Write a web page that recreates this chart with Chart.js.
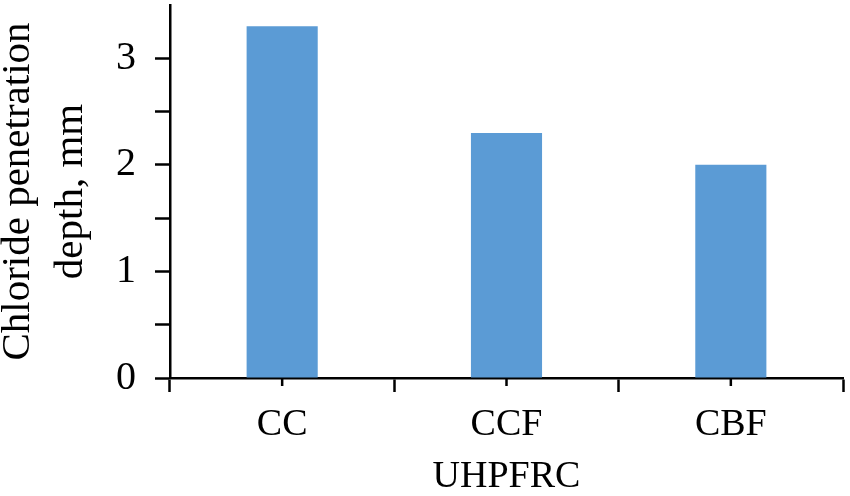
<!DOCTYPE html>
<html>
<head>
<meta charset="utf-8">
<script src="https://cdn.jsdelivr.net/npm/chart.js@4"></script>
<style>
  html, body { margin: 0; padding: 0; background: #ffffff; }
  #wrap { width: 850px; height: 496px; }
</style>
</head>
<body>
<div id="wrap"><canvas id="chart" width="850" height="496"></canvas></div>
<script>
// categories and values
const categories = ['CC', 'CCF', 'CBF'];
const penetrationDepth = [3.3, 2.3, 2.0]; // mm
const yTickLabels = [0, 1, 2, 3];

const barColor = '#5b9bd5';
const serif = "'Liberation Serif', 'Times New Roman', serif";

// short tick marks under each category centre
const centreTicks = {
    id: 'centreTicks',
    afterDraw(chart) {
        const x = chart.scales.x;
        const ctx = chart.ctx;
        ctx.save();
        ctx.strokeStyle = '#000';
        ctx.lineWidth = 2.5;
        categories.forEach((c, i) => {
            const px = x.getPixelForValue(i);
            ctx.beginPath();
            ctx.moveTo(px, x.top);
            ctx.lineTo(px, x.top + 8);
            ctx.stroke();
        });
        ctx.restore();
    }
};

// fixed axis sizes, no extra room reserved for half labels
function fixSize(s, w, h) {
    if (w) s.width = w;
    if (h) s.height = h;
    s.paddingTop = 0;
    s.paddingBottom = 0;
    s.paddingLeft = 0;
    s.paddingRight = 0;
}

new Chart(document.getElementById('chart'), {
    type: 'bar',
    data: {
        labels: categories,
        datasets: [{
            data: penetrationDepth,
            backgroundColor: barColor,
            borderWidth: 0,
            categoryPercentage: 1,
            barPercentage: 0.317
        }]
    },
    options: {
        responsive: false,
        animation: false,
        layout: { padding: { left: 0, right: 7, top: 5, bottom: 0 } },
        plugins: { legend: { display: false }, tooltip: { enabled: false } },
        scales: {
            x: {
                offset: true,
                afterFit: s => fixSize(s, 0, 118),
                grid: {
                    offset: true,
                    drawOnChartArea: false,
                    tickLength: 14,
                    tickWidth: 2.5,
                    tickColor: '#000'
                },
                border: { color: '#000', width: 2.5 },
                ticks: {
                    color: '#000',
                    padding: 10,
                    font: { family: serif, size: 38 }
                },
                title: {
                    display: true,
                    text: 'UHPFRC',
                    color: '#000',
                    padding: { top: 0, bottom: 0 },
                    font: { family: serif, size: 38, lineHeight: 1 }
                }
            },
            y: {
                min: 0,
                max: 3.5,
                afterFit: s => fixSize(s, 170, 0),
                grid: {
                    drawOnChartArea: false,
                    tickLength: 15,
                    tickWidth: 2.5,
                    tickColor: ctx => (ctx.tick && ctx.tick.value === 3.5) ? 'rgba(0,0,0,0)' : '#000'
                },
                border: { color: '#000', width: 2.5 },
                ticks: {
                    stepSize: 0.5,
                    color: '#000',
                    padding: 19,
                    font: { family: serif, size: 40 },
                    callback: v => yTickLabels.includes(v) ? String(v) : ''
                },
                title: {
                    display: true,
                    text: ['Chloride penetration', 'depth, mm'],
                    color: '#000',
                    padding: { top: -8.5, bottom: 0 },
                    font: { family: serif, size: 41, lineHeight: 1.29 }
                }
            }
        }
    },
    plugins: [centreTicks]
});
</script>
</body>
</html>
